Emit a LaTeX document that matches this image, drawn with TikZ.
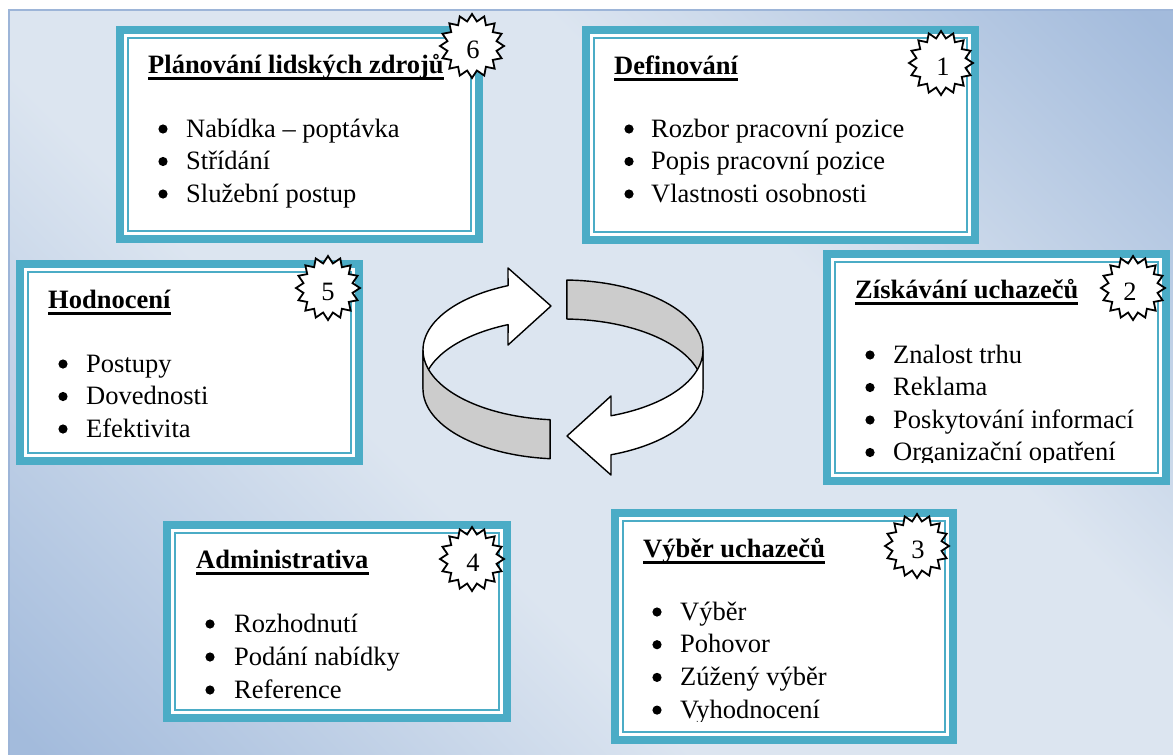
\documentclass[tikz,border=0pt]{standalone}
\usepackage{fontspec}
\setmainfont{Liberation Serif}
\usetikzlibrary{shapes.geometric}
\definecolor{teal5}{HTML}{4BACC6}
\definecolor{bgdark}{HTML}{A3BBDC}
\definecolor{bglight}{HTML}{DCE5F0}
\definecolor{bgline}{HTML}{9DB5D8}
\definecolor{ringgray}{HTML}{CCCCCC}
\pgfdeclareverticalshading{bgsh}{100bp}{color(0bp)=(bgdark); color(16bp)=(bgdark); color(40bp)=(bglight); color(62bp)=(bglight); color(84bp)=(bgdark); color(100bp)=(bgdark)}
\begin{document}
\begin{tikzpicture}[x=1pt,y=-1pt,
  tbox/.style={rectangle, fill=teal5, inner sep=0pt, outer sep=0pt, anchor=north west,
    path picture={
      \fill[white] ([shift={(8pt,-8pt)}]path picture bounding box.north west) rectangle ([shift={(-8pt,8pt)}]path picture bounding box.south east);
      \draw[teal5, line width=2.7pt] ([shift={(12pt,-12pt)}]path picture bounding box.north west) rectangle ([shift={(-12pt,12pt)}]path picture bounding box.south east);
    }},
  title/.style={font=\fontsize{26.5}{32.5}\selectfont\bfseries, inner sep=0pt, anchor=base west},
  item/.style={font=\fontsize{26.5}{32.5}\selectfont, inner sep=0pt, anchor=base west},
  num/.style={font=\fontsize{26.5}{32.5}\selectfont, inner sep=0pt},
  seal/.style={star, star points=16, star point ratio=1.28, minimum size=64pt, draw=black, fill=white, line width=1.8pt, inner sep=0pt, line join=miter},
  uline/.style={line width=3pt},
  ring/.style={draw=black, line width=1.4pt, line join=round}
]
\useasboundingbox (0,0) rectangle (1173,755);
% background
\shade[shading=bgsh, shading angle=-45] (9,10) rectangle (1185,765);
\draw[bgline, line width=2pt] (1185,10) -- (9,10) -- (9,765);

% ---------- boxes ----------
\node[tbox, minimum width=367pt, minimum height=217pt] (b6) at (116,26) {};
\node[tbox, minimum width=397pt, minimum height=218pt] (b1) at (582,26) {};
\node[tbox, minimum width=347pt, minimum height=235pt] (b2) at (823,250) {};
\node[tbox, minimum width=347pt, minimum height=205pt] (b5) at (16,260) {};
\node[tbox, minimum width=348pt, minimum height=201pt] (b4) at (163,521) {};
\node[tbox, minimum width=346pt, minimum height=235pt] (b3) at (611,509) {};

% box 6
\node[title] (t6) at (148,73) {Plánování lidských zdrojů};
\draw[uline] ([yshift=-5.5pt]t6.base west) -- ([yshift=-5.5pt]t6.base east);
\foreach \t [count=\i] in {Nabídka – poptávka, Střídání, Služební postup}{
  \node[item] (i6-\i) at (186,{137+32.5*(\i-1)}) {\t};
  \fill ([shift={(-23pt,8pt)}]i6-\i.base west) circle (4.6pt);}

% box 1
\node[title] (t1) at (614,74) {Definování};
\draw[uline] ([yshift=-5.5pt]t1.base west) -- ([yshift=-5.5pt]t1.base east);
\foreach \t [count=\i] in {Rozbor pracovní pozice, Popis pracovní pozice, Vlastnosti osobnosti}{
  \node[item] (i1-\i) at (651,{137+32.5*(\i-1)}) {\t};
  \fill ([shift={(-22pt,8pt)}]i1-\i.base west) circle (4.6pt);}

% box 2
\node[title] (t2) at (855,298) {Získávání uchazečů};
\draw[uline] ([yshift=-5.5pt]t2.base west) -- ([yshift=-5.5pt]t2.base east);
\begin{scope}
\clip (b2.north west) rectangle ([yshift=23pt]b2.south east);
\foreach \t [count=\i] in {Znalost trhu, Reklama, Poskytování informací, Organizační opatření}{
  \node[item] (i2-\i) at (893,{363+32.5*(\i-1)}) {\t};
  \fill ([shift={(-23pt,8pt)}]i2-\i.base west) circle (4.6pt);}
\end{scope}

% box 5
\node[title] (t5) at (48,308) {Hodnocení};
\draw[uline] ([yshift=-5.5pt]t5.base west) -- ([yshift=-5.5pt]t5.base east);
\foreach \t [count=\i] in {Postupy, Dovednosti, Efektivita}{
  \node[item] (i5-\i) at (86,{372+32.5*(\i-1)}) {\t};
  \fill ([shift={(-23pt,8pt)}]i5-\i.base west) circle (4.6pt);}

% box 4
\node[title] (t4) at (196,568) {Administrativa};
\draw[uline] ([yshift=-5.5pt]t4.base west) -- ([yshift=-5.5pt]t4.base east);
\foreach \t [count=\i] in {Rozhodnutí, Podání nabídky, Reference}{
  \node[item] (i4-\i) at (234,{632+33*(\i-1)}) {\t};
  \fill ([shift={(-24pt,8pt)}]i4-\i.base west) circle (4.6pt);}

% box 3
\node[title] (t3) at (643,557) {Výběr uchazečů};
\draw[uline] ([yshift=-5.5pt]t3.base west) -- ([yshift=-5.5pt]t3.base east);
\begin{scope}
\clip (b3.north west) rectangle ([yshift=23pt]b3.south east);
\foreach \t [count=\i] in {Výběr, Pohovor, Zúžený výběr, Vyhodnocení}{
  \node[item] (i3-\i) at (680,{620+32.7*(\i-1)}) {\t};
  \fill ([shift={(-23pt,8pt)}]i3-\i.base west) circle (4.6pt);}
\end{scope}

% ---------- seals ----------
\node[seal] (s6) at (472,46) {};
\node[num] (n6) at (473,50) {6};
\node[seal] (s1) at (941,63) {};
\node[num] (n1) at (943,67) {1};
\node[seal] (s2) at (1133,288) {};
\node[num] (n2) at (1130,292) {2};
\node[seal] (s5) at (328,288) {};
\node[num] (n5) at (328,292) {5};
\node[seal] (s4) at (472,559) {};
\node[num] (n4) at (473,563) {4};
\node[seal] (s3) at (917,546) {};
\node[num] (n3) at (918,550) {3};

% ---------- cycle ring ----------
% back left (white, arrow head right)
\draw[ring, fill=white] plot[domain=180:246.9, samples=40] ({563+140*cos(\x)},{350+70*sin(\x)})
  -- (508,268) -- (551,306) -- (508,345)
  -- plot[domain=246.9:180, samples=40] ({563+140*cos(\x)},{389+70*sin(\x)}) -- cycle;
% back right (gray)
\draw[ring, fill=ringgray] plot[domain=271.6:360, samples=40] ({563+140*cos(\x)},{350+70*sin(\x)})
  -- plot[domain=360:271.6, samples=40] ({563+140*cos(\x)},{389+70*sin(\x)}) -- cycle;
% front left (gray)
\draw[ring, fill=ringgray] plot[domain=180:95.3, samples=40] ({563+140*cos(\x)},{350+70*sin(\x)})
  -- plot[domain=95.3:180, samples=40] ({563+140*cos(\x)},{389+70*sin(\x)}) -- cycle;
% front right (white, arrow head left)
\draw[ring, fill=white] plot[domain=0:69.95, samples=40] ({563+140*cos(\x)},{350+70*sin(\x)})
  -- (611,396) -- (567,436) -- (611,475)
  -- plot[domain=69.95:0, samples=40] ({563+140*cos(\x)},{389+70*sin(\x)}) -- cycle;
\end{tikzpicture}
\end{document}
